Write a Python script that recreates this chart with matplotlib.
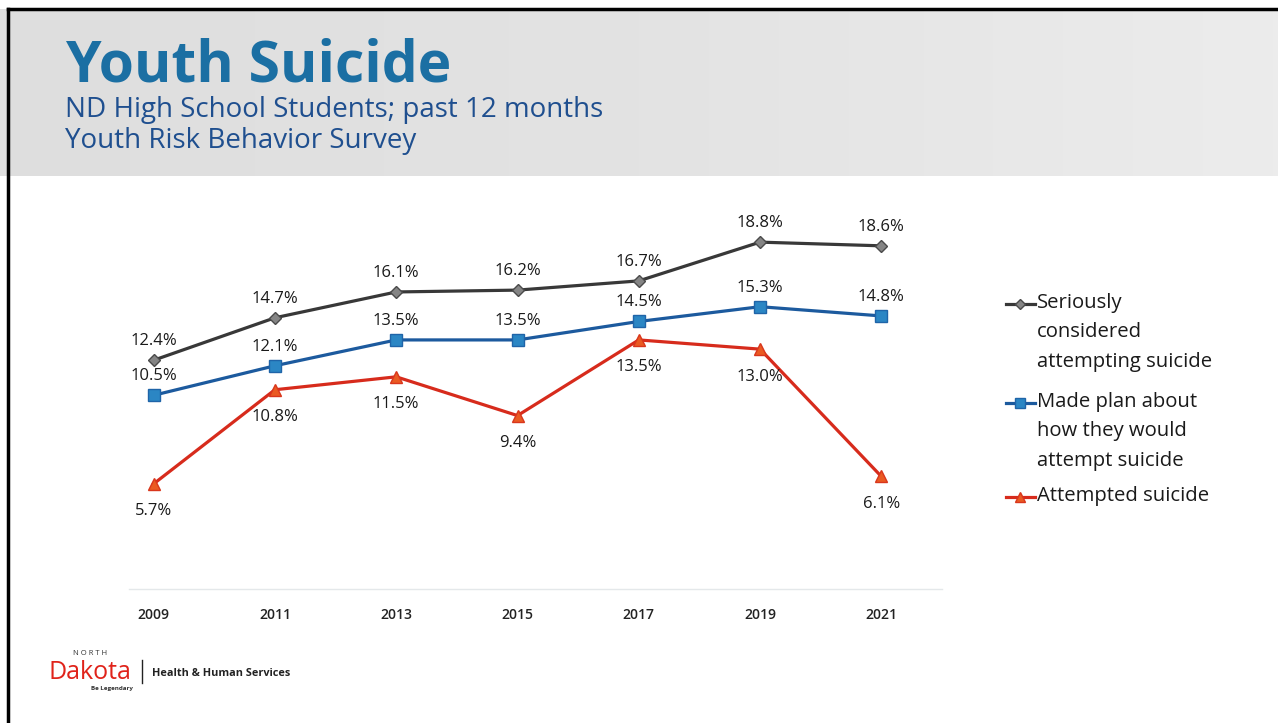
import matplotlib
matplotlib.use("Agg")
import matplotlib.pyplot as plt
from matplotlib.lines import Line2D
import numpy as np

years = ["2009", "2011", "2013", "2015", "2017", "2019", "2021"]
considered = [12.4, 14.7, 16.1, 16.2, 16.7, 18.8, 18.6]
made_plan = [10.5, 12.1, 13.5, 13.5, 14.5, 15.3, 14.8]
attempted = [5.7, 10.8, 11.5, 9.4, 13.5, 13.0, 6.1]

series_names = ["Seriously\nconsidered\nattempting suicide",
                "Made plan about\nhow they would\nattempt suicide",
                "Attempted suicide"]

W, H = 1278, 723
fig = plt.figure(figsize=(W / 100, H / 100), dpi=100)
fig.patch.set_facecolor("white")
plt.rcParams['font.family'] = ['Open Sans', 'DejaVu Sans']

def fx(px):
    return px / W

def fy(py):
    return 1 - py / H

# header background (gradient grey)
bg = fig.add_axes([0, fy(176), 1, (176 - 9) / H], zorder=0)
grad = np.linspace(0, 1, 256)[None, :]
bg.imshow(grad, aspect="auto", cmap=matplotlib.colors.LinearSegmentedColormap.from_list(
    "g", ["#dedede", "#e3e3e3", "#ececec"]), extent=[0, 1, 0, 1])
bg.set_axis_off()

# borders
fig.add_artist(Line2D([fx(8), 1], [fy(9), fy(9)], color="black", lw=2.5))
fig.add_artist(Line2D([fx(8), fx(8)], [fy(9), 0], color="black", lw=2.5))

# titles
fig.text(fx(66), fy(81), "Youth Suicide", fontsize=41, fontweight="bold",
         color="#1b6fa3", va="baseline", ha="left")
fig.text(fx(65), fy(117), "ND High School Students; past 12 months", fontsize=20,
         color="#1f4f8f", va="baseline", ha="left")
fig.text(fx(65), fy(148), "Youth Risk Behavior Survey", fontsize=20,
         color="#1f4f8f", va="baseline", ha="left")

# main axes
ax = fig.add_axes([fx(93), fy(589), fx(942 - 93), (589 - 220) / H])
ax.set_xlim(-0.5, 6.5)
ax.set_ylim(0, 20)
x = np.arange(len(years))

styles = [
    dict(color="#383838", marker="D", markersize=6, mfc="#858585", mec="#4a4a4a"),
    dict(color="#1c5a9e", marker="s", markersize=8.5, mfc="#2b86c4", mec="#1f64a8"),
    dict(color="#d72b1c", marker="^", markersize=9, mfc="#ea5a22", mec="#d9361c"),
]
data = [considered, made_plan, attempted]
for vals, st in zip(data, styles):
    ax.plot(x, vals, lw=2.3, zorder=3, **st)

# data labels
for vals in (considered, made_plan):
    for i, v in enumerate(vals):
        ax.annotate(f"{v:.1f}%", (i, v), xytext=(0, 8), textcoords="offset points",
                    ha="center", va="bottom", fontsize=12, color="#1a1a1a")
for i, v in enumerate(attempted):
    ax.annotate(f"{v:.1f}%", (i, v), xytext=(0, -14), textcoords="offset points",
                ha="center", va="top", fontsize=12, color="#1a1a1a")

for s in ["top", "right", "left"]:
    ax.spines[s].set_visible(False)
ax.spines["bottom"].set_color("#e4e8ea")
ax.spines["bottom"].set_linewidth(1)
ax.spines["bottom"].set_bounds(-0.2, 6.5)
ax.set_yticks([])
ax.set_xticks(x)
ax.set_xticklabels(years, fontsize=10, fontweight="semibold", color="#222222")
ax.tick_params(axis="x", length=0, pad=14)
ax.set_facecolor("none")

# legend (manual)
leg_y = [304, 403, 497]
for (name, st), ly in zip(zip(series_names, styles), leg_y):
    fig.add_artist(Line2D([fx(1006), fx(1035)], [fy(ly), fy(ly)], lw=2.3,
                          color=st["color"]))
    fig.add_artist(Line2D([fx(1020)], [fy(ly)], lw=0, marker=st["marker"],
                          mfc=st["mfc"], mec=st["mec"], markersize=st["markersize"] * 0.85))
    fig.text(fx(1037), fy(ly - 11), name, fontsize=14.6, color="#1a1a1a",
             va="top", ha="left", linespacing=1.62)

# footer logo
fig.text(fx(90), fy(655), "N O R T H", fontsize=5.5, color="#333333", ha="center", va="baseline")
fig.text(fx(90), fy(679), "Dakota", fontsize=18, color="#e0231a", ha="center", va="baseline")
fig.text(fx(112), fy(690), "Be Legendary", fontsize=4.5, fontweight="bold", color="#333333",
         ha="center", va="baseline")
fig.add_artist(Line2D([fx(142), fx(142)], [fy(660), fy(683)], color="#222222", lw=1))
fig.text(fx(152), fy(676), "Health & Human Services", fontsize=7.8, fontweight="bold",
         color="#222222", ha="left", va="baseline")

fig.savefig("out.png", dpi=100)
